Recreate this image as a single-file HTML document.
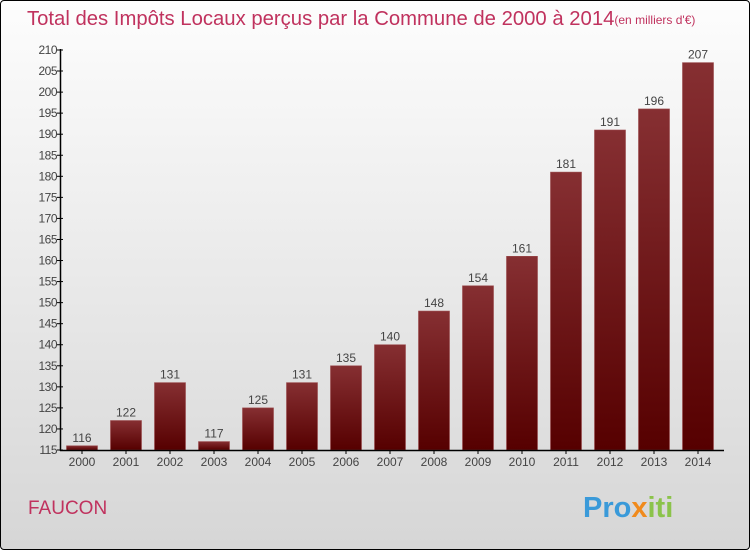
<!DOCTYPE html>
<html><head><meta charset="utf-8"><style>
body{margin:0}
#c{position:relative;width:748px;height:548px;border:1px solid #000;border-radius:4px;background:linear-gradient(#fdfdfd,#d6d6d6);overflow:hidden;font-family:"Liberation Sans",sans-serif}
</style></head><body>
<div id="c">
<svg width="748" height="548" viewBox="1 1 748 548" id="svg">
<defs><linearGradient id="g" x1="0" y1="0" x2="0" y2="1"><stop offset="0" stop-color="#862f32"/><stop offset="1" stop-color="#560000"/></linearGradient></defs>
<text x="27" y="25" font-size="20.3" fill="#c0325e">Total des Impôts Locaux perçus par la Commune de 2000 à 2014<tspan font-size="12" dy="-1">(en milliers d'€)</tspan></text>
<text x="28" y="514" font-size="19" fill="#c0325e">FAUCON</text>
<text x="583" y="517" font-size="29" font-weight="bold" fill="#3a9ad9">Pro<tspan fill="#f08a1c">x</tspan><tspan fill="#8bc34a">iti</tspan></text>
<g id="bars"></g><g id="axes"></g>
</svg></div>
<script>
const categories=["2000","2001","2002","2003","2004","2005","2006","2007","2008","2009","2010","2011","2012","2013","2014"];
const values=[116,122,131,117,125,131,135,140,148,154,161,181,191,196,207];
const yTicks=[115,120,125,130,135,140,145,150,155,160,165,170,175,180,185,190,195,200,205,210];
const ns="http://www.w3.org/2000/svg";
const y0=450,yMin=115,pxU=400/95;
const ys=v=>y0-(v-yMin)*pxU;
const xs=i=>82+i*44;
const bars=document.getElementById('bars'),axes=document.getElementById('axes');
function mk(t,a,p){const e=document.createElementNS(ns,t);for(const k in a)e.setAttribute(k,a[k]);p.appendChild(e);return e;}
values.forEach((v,i)=>{
 const r=mk('rect',{x:xs(i)-15.5,y:ys(v),width:31,height:y0-ys(v),fill:'url(#g)',stroke:'#9a4a4c','stroke-width':0.6},bars);
 
 
 const t=mk('text',{x:xs(i),y:ys(v)-4,'text-anchor':'middle','font-size':12,fill:'#444'},bars);t.textContent=v;
 
 
 const c=mk('text',{x:xs(i),y:466,'text-anchor':'middle','font-size':12,fill:'#444'},axes);c.textContent=categories[i];
 
 
 mk('line',{x1:xs(i),x2:xs(i),y1:450,y2:454,stroke:'#000'},axes);
});
const ya=mk('line',{x1:60.5,x2:60.5,y1:49,y2:451,stroke:'#000','stroke-width':1.5},axes);


const xa=mk('line',{x1:60,x2:724,y1:450.5,y2:450.5,stroke:'#000','stroke-width':1.5},axes);


yTicks.forEach(v=>{
 mk('line',{x1:57,x2:63,y1:ys(v),y2:ys(v),stroke:'#000'},axes);
 const t=mk('text',{x:57,y:ys(v)+4,'text-anchor':'end','font-size':12,fill:'#444','letter-spacing':'-0.5'},axes);t.textContent=v;
 
 
});
</script>
</body></html>
